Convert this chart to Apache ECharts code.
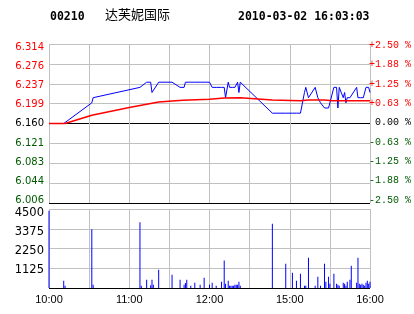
<!DOCTYPE html>
<html><head><meta charset="utf-8">
<script src="https://cdn.jsdelivr.net/npm/echarts@6/dist/echarts.min.js"></script>
<style>html,body{margin:0;padding:0;background:#fff}#c{width:414px;height:314px}</style>
</head><body><div id="c"></div>
<script>
const stockCode = '00210';
const stockName = '达芙妮国际';
const stamp = '2010-03-02 16:03:03';
const prevClose = 6.160;

// trading minutes since 10:00 (12:30 joins 14:30 at minute 150)
const priceMinutes = [0, 11, 12, 32, 33, 68, 69, 73, 76, 77, 78, 82, 92, 98, 101, 102, 103, 106, 109, 113, 116, 120, 122, 125, 129, 131, 132, 134, 135, 136, 137, 138, 139, 140, 141, 142, 143, 167, 177, 182, 185, 188, 191, 192, 194, 199, 201, 203, 206, 207, 209, 210, 213, 215, 216, 217, 220, 221, 222, 223, 225, 226, 230, 231, 232, 233, 234, 235, 236, 237, 238, 239, 240];
const prices = [6.16, 6.16, 6.16, 6.20, 6.21, 6.23, 6.23, 6.24, 6.24, 6.22, 6.22, 6.24, 6.24, 6.23, 6.23, 6.24, 6.24, 6.24, 6.24, 6.24, 6.24, 6.24, 6.23, 6.23, 6.23, 6.23, 6.21, 6.24, 6.23, 6.23, 6.23, 6.23, 6.23, 6.23, 6.24, 6.22, 6.24, 6.18, 6.18, 6.18, 6.18, 6.18, 6.22, 6.23, 6.21, 6.23, 6.21, 6.20, 6.19, 6.19, 6.19, 6.20, 6.23, 6.23, 6.19, 6.23, 6.21, 6.22, 6.20, 6.21, 6.21, 6.21, 6.23, 6.21, 6.21, 6.21, 6.21, 6.21, 6.21, 6.23, 6.23, 6.23, 6.22];

const avgMinutes = [0, 12, 32, 60, 82, 100, 120, 131, 143, 167, 188, 194, 206, 212, 240];
const avgPrices = [6.160, 6.160, 6.176, 6.191, 6.2015, 6.205, 6.207, 6.2095, 6.210, 6.2055, 6.2042, 6.2055, 6.2055, 6.2042, 6.2042];

const volMinutes = [0, 11, 12, 32, 33, 68, 69, 73, 76, 77, 78, 82, 92, 98, 101, 102, 103, 106, 109, 113, 116, 120, 122, 125, 129, 131, 132, 134, 135, 136, 137, 138, 139, 140, 141, 142, 143, 167, 177, 182, 185, 188, 191, 192, 194, 199, 201, 203, 206, 207, 209, 210, 213, 215, 216, 217, 220, 221, 222, 223, 225, 226, 230, 231, 232, 233, 234, 235, 236, 237, 238, 239, 240];
const volumes = [4400, 420, 130, 3350, 190, 3740, 130, 470, 150, 470, 190, 1040, 760, 470, 190, 280, 470, 130, 300, 190, 590, 190, 300, 130, 360, 1560, 245, 416, 130, 130, 130, 130, 190, 190, 190, 360, 130, 3660, 1385, 870, 416, 815, 130, 130, 1730, 130, 645, 130, 1385, 360, 645, 245, 815, 245, 190, 130, 300, 245, 130, 360, 470, 1270, 300, 1730, 245, 190, 245, 190, 130, 300, 416, 245, 360];

const priceTickLabels = ['6.006', '6.044', '6.083', '6.121', '6.160', '6.199', '6.237', '6.276', '6.314'];
const pctTickLabels = ['-2.50 %', '-1.88 %', '-1.25 %', '-0.63 %', ' 0.00 %', '+0.63 %', '+1.25 %', '+1.88 %', '+2.50 %'];
const volTickLabels = ['', '1125', '2250', '3375', '4500'];
const timeTickMinutes = [0, 60, 120, 180, 240];
const timeTickLabels = ['10:00', '11:00', '12:00', '15:00', '16:00'];

const RED = '#ff0000', GREEN = '#005a00', GRID = '#c0c0c0';
const toPct = p => (p / prevClose - 1) * 100;
const labelColor = i => (i < 4 ? GREEN : i > 4 ? RED : '#000');
const tickIndex = v => Math.round((parseFloat(v) + 2.5) / 0.625);
const hiddenX = g => ({ type: 'value', gridIndex: g, min: 0, max: 240, show: false });

const chart = echarts.init(document.getElementById('c'), null, { renderer: 'canvas' });
chart.setOption({
  animation: false,
  backgroundColor: '#fff',
  graphic: [
    { type: 'text', left: 50, top: 11, style: { text: stockCode, font: 'bold 11.5px "DejaVu Sans Mono"', fill: '#000' } },
    { type: 'text', left: 105, top: 8, style: { text: stockName, font: '13px "Noto Sans CJK SC"', fill: '#000' } },
    { type: 'text', left: 238, top: 11, style: { text: stamp, font: 'bold 11.5px "DejaVu Sans Mono"', fill: '#000' } }
  ],
  grid: [
    { left: 49, top: 44, width: 321, height: 159 },
    { left: 49, top: 209, width: 321, height: 79 },
    // label-only grids (the original spaces its tick labels slightly tighter than its grid lines)
    { left: 49, top: 47, width: 321, height: 153.5 },
    { left: 49, top: 45.5, width: 321, height: 154.5 },
    { left: 49, top: 213.5, width: 321, height: 75.6 }
  ],
  xAxis: [
    { type: 'value', gridIndex: 0, min: 0, max: 240, interval: 30,
      axisLine: { show: false }, axisTick: { show: false }, axisLabel: { show: false },
      splitLine: { show: true, lineStyle: { color: GRID, width: 1 } } },
    { type: 'value', gridIndex: 1, min: 0, max: 240, interval: 30,
      axisLine: { show: false }, axisTick: { show: false },
      axisLabel: { show: true, margin: 6, color: '#000', fontFamily: 'Liberation Sans', fontSize: 11,
        formatter: v => { const i = timeTickMinutes.indexOf(v); return i >= 0 ? timeTickLabels[i] : ''; } },
      splitLine: { show: true, lineStyle: { color: GRID, width: 1 } } },
    hiddenX(2), hiddenX(3), hiddenX(4)
  ],
  yAxis: [
    { type: 'value', gridIndex: 0, min: -2.5, max: 2.5, interval: 0.625,
      axisLine: { show: false }, axisTick: { show: false }, axisLabel: { show: false },
      splitLine: { show: true, lineStyle: { width: 1,
        color: ['#000', GRID, GRID, GRID, '#000', GRID, GRID, GRID, GRID] } } },
    { type: 'value', gridIndex: 1, min: 0, max: 4500, interval: 1125,
      axisLine: { show: false }, axisTick: { show: false }, axisLabel: { show: false },
      splitLine: { show: true, lineStyle: { width: 1, color: ['#000', GRID, GRID, GRID, GRID] } } },
    { type: 'value', gridIndex: 2, position: 'left', min: -2.5, max: 2.5, interval: 0.625,
      axisLine: { show: false }, axisTick: { show: false }, splitLine: { show: false },
      axisLabel: { margin: 5, fontFamily: 'DejaVu Sans', fontSize: 10,
        formatter: v => priceTickLabels[tickIndex(v)],
        color: v => labelColor(tickIndex(v)) } },
    { type: 'value', gridIndex: 3, position: 'right', min: -2.5, max: 2.5, interval: 0.625,
      axisLine: { show: false }, axisTick: { show: false }, splitLine: { show: false },
      axisLabel: { margin: 3, fontFamily: 'Liberation Mono', fontSize: 10,
        formatter: v => pctTickLabels[tickIndex(v)],
        color: v => labelColor(tickIndex(v)) } },
    { type: 'value', gridIndex: 4, position: 'left', min: 0, max: 4500, interval: 1125,
      axisLine: { show: false }, axisTick: { show: false }, splitLine: { show: false },
      axisLabel: { margin: 5, color: '#000', fontFamily: 'DejaVu Sans', fontSize: 11.5,
        formatter: v => volTickLabels[Math.round(v / 1125)] } }
  ],
  series: [
    { type: 'line', xAxisIndex: 0, yAxisIndex: 0, showSymbol: false, silent: true,
      lineStyle: { color: '#0000ff', width: 1 },
      data: priceMinutes.map((m, i) => [m, toPct(prices[i])]) },
    { type: 'line', xAxisIndex: 0, yAxisIndex: 0, showSymbol: false, silent: true,
      lineStyle: { color: RED, width: 1.6 },
      data: avgMinutes.map((m, i) => [m, toPct(avgPrices[i])]) },
    { type: 'bar', xAxisIndex: 1, yAxisIndex: 1, barWidth: 1, silent: true,
      itemStyle: { color: '#0000ff' },
      data: volMinutes.map((m, i) => [m, volumes[i]]) }
  ]
});
</script>
</body></html>
